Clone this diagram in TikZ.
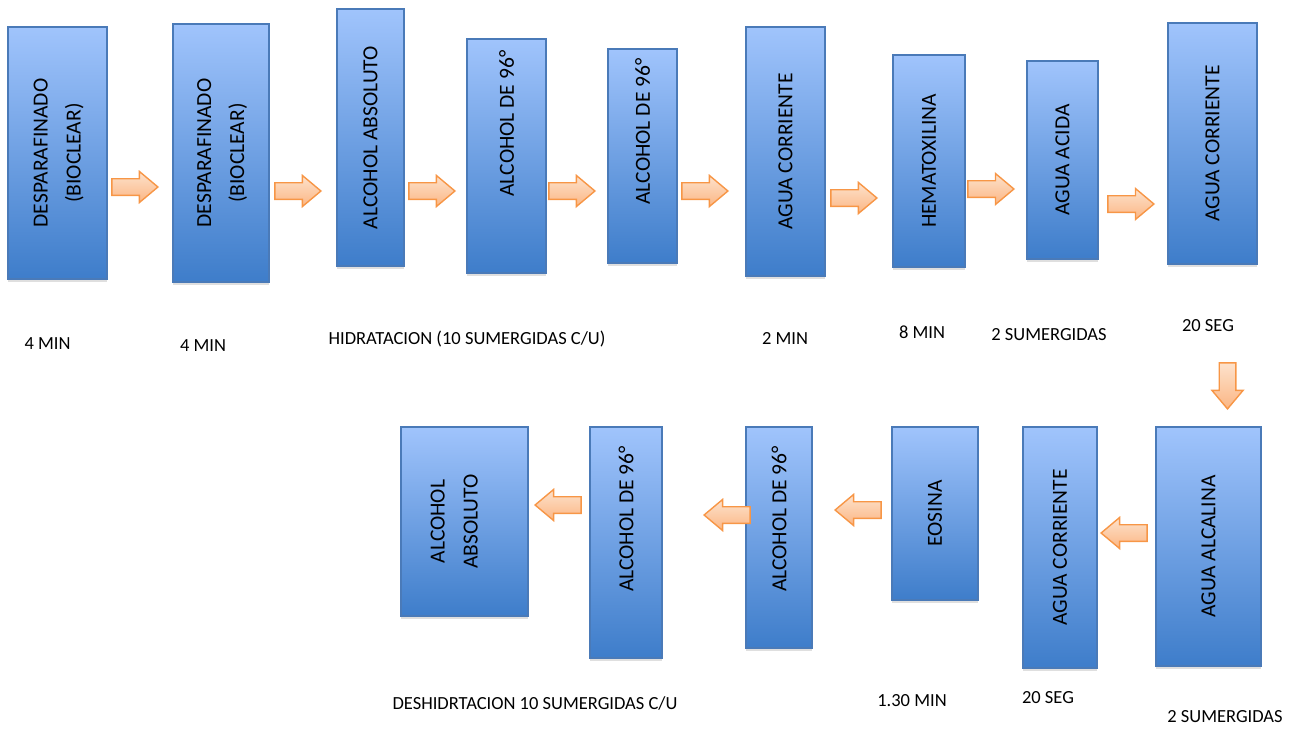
\documentclass[tikz,border=0pt]{standalone}
\usepackage{fontspec}
\setmainfont{Carlito}
\usetikzlibrary{shapes.arrows,shadows}

\definecolor{boxtop}{RGB}{160,196,252}
\definecolor{boxbot}{RGB}{62,125,202}
\definecolor{boxline}{RGB}{74,122,184}
\definecolor{arrtop}{RGB}{253,226,204}
\definecolor{arrbot}{RGB}{251,182,132}
\definecolor{arrline}{RGB}{247,150,70}

% rotated step text, optional space before it lifts the text
\newcommand{\vtxt}[2][0pt]{\rotatebox{90}{\hspace*{#1}#2}}

\tikzset{
  stepbox/.style 2 args={draw=boxline, line width=1.5pt, top color=boxtop, bottom color=boxbot,
    minimum width=#1pt, minimum height=#2pt, inner sep=0pt, font=\fontsize{21.5}{33}\selectfont,
    drop shadow={shadow xshift=0pt, shadow yshift=-2.5pt, opacity=0.25}},
  flowarrow/.style={single arrow, draw=arrline, line width=1.4pt, top color=arrtop, bottom color=arrbot,
    minimum height=46pt, minimum width=31pt, inner sep=7.5pt,
    single arrow tip angle=80, single arrow head indent=0pt, anchor=tip},
  timelabel/.style={anchor=base, font=\fontsize{18.5}{22}\selectfont},
}

\begin{document}
\begin{tikzpicture}[x=1pt,y=-1pt]
  \useasboundingbox (0,0) rectangle (1295,728);

  % top row
  \node[stepbox={99}{252}] (b1) at (57.5,153) {\vtxt{\begin{tabular}{c}DESPARAFINADO\\(BIOCLEAR)\end{tabular}}};
  \node[stepbox={96}{258}] (b2) at (221,153) {\vtxt{\begin{tabular}{c}DESPARAFINADO\\(BIOCLEAR)\end{tabular}}};
  \node[stepbox={67}{257}] (b3) at (370.5,137.5) {\vtxt{ALCOHOL ABSOLUTO}};
  \node[stepbox={79}{234}] (b4) at (506.5,156) {\vtxt[65pt]{ALCOHOL DE 96°}};
  \node[stepbox={69}{214}] (b5) at (642.5,156) {\vtxt[49pt]{ALCOHOL DE 96°}};
  \node[stepbox={79}{249}] (b6) at (785.5,151.5) {\vtxt{AGUA CORRIENTE}};
  \node[stepbox={72}{212}] (b7) at (929,161) {\vtxt{HEMATOXILINA}};
  \node[stepbox={71}{198}] (b8) at (1062.5,160) {\vtxt{AGUA ACIDA}};
  \node[stepbox={89}{241}] (b9) at (1212.5,143.5) {\vtxt{AGUA CORRIENTE}};

  \node[flowarrow] (a1) at (159,187) {};
  \node[flowarrow] (a2) at (322,191) {};
  \node[flowarrow] (a3) at (456,191) {};
  \node[flowarrow] (a4) at (596,191) {};
  \node[flowarrow] (a5) at (729,191) {};
  \node[flowarrow] (a6) at (878,198) {};
  \node[flowarrow] (a7) at (1015,189) {};
  \node[flowarrow] (a8) at (1155,204) {};

  \node[timelabel] (t1) at (47.5,349) {4 MIN};
  \node[timelabel] (t2) at (203,351) {4 MIN};
  \node[timelabel] (t3) at (467,344) {HIDRATACION (10 SUMERGIDAS C/U)};
  \node[timelabel] (t4) at (785,344) {2 MIN};
  \node[timelabel] (t5) at (922,338) {8 MIN};
  \node[timelabel] (t6) at (1049,340) {2 SUMERGIDAS};
  \node[timelabel] (t7) at (1208,331) {20 SEG};

  % turn down
  \node[flowarrow, shape border rotate=270] (down) at (1227.5,410) {};

  % bottom row
  \node[stepbox={105}{239}] (c1) at (1208.5,546.5) {\vtxt{AGUA ALCALINA}};
  \node[stepbox={74}{241}] (c2) at (1060,547.5) {\vtxt{AGUA CORRIENTE}};
  \node[stepbox={86}{173}] (c3) at (935,513.5) {\vtxt{EOSINA}};
  \node[stepbox={66}{221}] (c4) at (779,537.5) {\vtxt[37pt]{ALCOHOL DE 96°}};
  \node[stepbox={72}{231}] (c5) at (626,542.5) {\vtxt[47pt]{ALCOHOL DE 96°}};
  \node[stepbox={127}{189}] (c6) at (464.5,521.5) {\vtxt{\begin{tabular}{c}ALCOHOL\\ABSOLUTO\rule[-30pt]{0pt}{0pt}\end{tabular}}};

  \node[flowarrow, shape border rotate=180] (r1) at (1100,533) {};
  \node[flowarrow, shape border rotate=180] (r2) at (834,510) {};
  \node[flowarrow, shape border rotate=180] (r3) at (703,515) {};
  \node[flowarrow, shape border rotate=180] (r4) at (534,505) {};

  \node[timelabel] (u1) at (535,709) {DESHIDRTACION 10 SUMERGIDAS C/U};
  \node[timelabel] (u2) at (912,706) {1.30 MIN};
  \node[timelabel] (u3) at (1048,703) {20 SEG};
  \node[timelabel] (u4) at (1225,722) {2 SUMERGIDAS};
\end{tikzpicture}
\end{document}
